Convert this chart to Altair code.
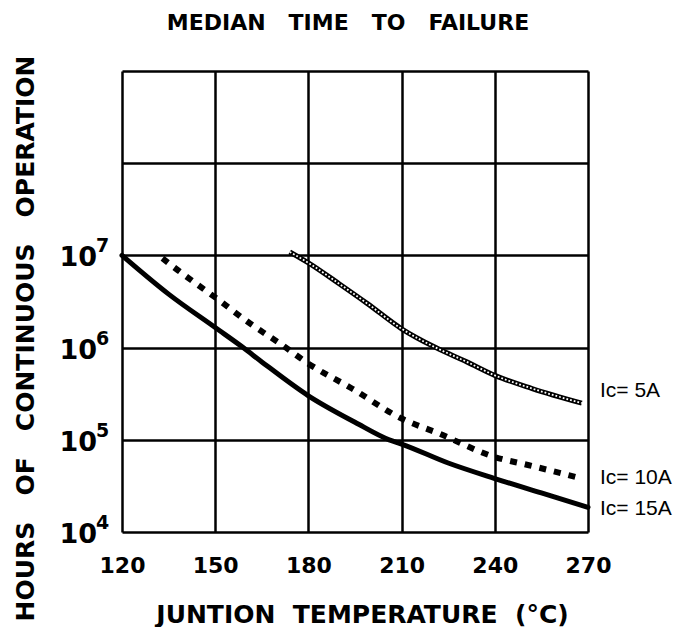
import altair as alt
import pandas as pd

# ---- data ----
title_text = "MEDIAN\u00a0\u00a0 TIME\u00a0\u00a0 TO\u00a0\u00a0 FAILURE"
x_ticks = [120, 150, 180, 210, 240, 270]
y_ticks = [1e4, 1e5, 1e6, 1e7, 1e8, 1e9]
y_label_ticks = [1e4, 1e5, 1e6, 1e7]
y_label_base = ["10", "10", "10", "10"]
y_label_exp = ["4", "5", "6", "7"]

t_15a = [120, 135, 150, 159, 165, 180, 195, 206, 210, 225, 240, 255, 270]
h_15a = [1.0e7, 3.8e6, 1.65e6, 1.0e6, 7.0e5, 3.0e5, 1.55e5, 1.0e5, 9.0e4, 5.6e4, 3.8e4, 2.65e4, 1.85e4]

t_10a = [133, 138, 144, 150, 162, 171, 180, 194, 210, 222, 240, 251, 268]
h_10a = [9.3e6, 6.9e6, 4.9e6, 3.5e6, 1.75e6, 1.1e6, 6.7e5, 3.6e5, 1.7e5, 1.17e5, 6.5e4, 5.3e4, 3.8e4]

t_5a = [174, 180, 190, 199, 210, 221, 231, 240, 252, 268]
h_5a = [1.09e7, 8.3e6, 4.9e6, 3.0e6, 1.6e6, 1.0e6, 7.0e5, 5.0e5, 3.6e5, 2.5e5]

series_names = ["Ic= 5A", "Ic= 10A", "Ic= 15A"]

rows = []
for name, ts, hs in zip(series_names, [t_5a, t_10a, t_15a], [h_5a, h_10a, h_15a]):
    for t, h in zip(ts, hs):
        rows.append({"T": t, "H": h, "series": name})
df = pd.DataFrame(rows)

lab = pd.DataFrame({
    "T": [x_ticks[-1]] * 3,
    "H": [h_5a[-1], h_10a[-1], h_15a[-1]],
    "series": series_names,
})

ylab = pd.DataFrame({
    "T": [x_ticks[0]] * len(y_label_ticks),
    "H": y_label_ticks,
    "base": y_label_base,
    "exp": y_label_exp,
})

FONT = "DejaVu Sans"

x_scale = alt.Scale(domain=[x_ticks[0], x_ticks[-1]], nice=False, zero=False)
y_scale = alt.Scale(type="log", domain=[y_ticks[0], y_ticks[-1]], nice=False)

x_enc = alt.X(
    "T:Q", scale=x_scale,
    axis=alt.Axis(
        values=x_ticks, grid=True, gridColor="black", gridWidth=2.5, gridOpacity=1,
        domain=False, ticks=False, tickSize=0,
        labelFont=FONT, labelFontSize=22, labelFontWeight="bold", labelColor="black",
        labelBaseline="alphabetic", labelPadding=40, labelFlush=False, labelOverlap=False,
        title="JUNTION\u00a0 TEMPERATURE\u00a0 (°C)",
        titleFont=FONT, titleFontSize=25, titleFontWeight="bold", titleColor="black",
        titleX=240, titleY=90, titleAlign="center", titleBaseline="alphabetic",
    ),
)
y_enc = alt.Y(
    "H:Q", scale=y_scale,
    axis=alt.Axis(
        values=y_ticks, labels=False, grid=True, gridColor="black", gridWidth=2.5,
        gridOpacity=1, domain=False, ticks=False, tickSize=0,
        title="HOURS\u00a0\u00a0 OF\u00a0\u00a0 CONTINUOUS\u00a0\u00a0 OPERATION",
        titleFont=FONT, titleFontSize=25, titleFontWeight="bold", titleColor="black",
        titleX=-89, titleY=267, titleAngle=270, titleAlign="center", titleBaseline="alphabetic",
    ),
)

base = alt.Chart(df).encode(x=x_enc, y=y_enc)

line15 = base.transform_filter(alt.datum.series == "Ic= 15A").mark_line(
    color="black", strokeWidth=5, interpolate="monotone", strokeCap="round"
)
line10 = base.transform_filter(alt.datum.series == "Ic= 10A").mark_line(
    color="black", strokeWidth=6, interpolate="monotone", strokeDash=[7, 8], strokeCap="butt"
)
line5 = base.transform_filter(alt.datum.series == "Ic= 5A").mark_line(
    color="black", strokeWidth=5, interpolate="monotone"
)
line5dots = base.transform_filter(alt.datum.series == "Ic= 5A").mark_line(
    color="white", strokeWidth=1.8, interpolate="monotone", strokeDash=[1.8, 2.0]
)

# series labels at the right end
lab_base = alt.Chart(lab).encode(
    x=alt.X("T:Q", scale=x_scale), y=alt.Y("H:Q", scale=y_scale), text="series:N"
)
lab_style = dict(align="left", baseline="alphabetic", dx=12, font="Liberation Sans",
                 fontSize=21, color="black")
lab5 = lab_base.transform_filter(alt.datum.series == "Ic= 5A").mark_text(dy=-6, **lab_style)
lab10 = lab_base.transform_filter(alt.datum.series == "Ic= 10A").mark_text(dy=5, **lab_style)
lab15 = lab_base.transform_filter(alt.datum.series == "Ic= 15A").mark_text(dy=8, **lab_style)

# y tick labels: "10" with a raised exponent
ylab_base = alt.Chart(ylab).encode(x=alt.X("T:Q", scale=x_scale), y=alt.Y("H:Q", scale=y_scale))
ylab10 = ylab_base.mark_text(
    align="right", baseline="alphabetic", dx=-25, dy=11, font=FONT, fontSize=27,
    fontWeight="bold", color="black"
).encode(text="base:N")
ylabexp = ylab_base.mark_text(
    align="left", baseline="alphabetic", dx=-26, dy=-3, font=FONT, fontSize=19,
    fontWeight="bold", color="black"
).encode(text="exp:N")

# chart title as a text mark above the plot
title = alt.Chart(pd.DataFrame({"t": [title_text]})).mark_text(
    align="center", baseline="alphabetic", font=FONT, fontSize=22, fontWeight="bold",
    color="black"
).encode(text="t:N", x=alt.value(226), y=alt.value(-41))

chart = alt.layer(
    line15, line10, line5, line5dots, lab5, lab10, lab15, ylab10, ylabexp, title
).properties(
    width=466,
    height=461,
    autosize=alt.AutoSizeParams(type="none"),
    padding={"left": 114, "top": 63, "right": 85, "bottom": 95},
).configure_view(stroke="black", strokeWidth=3).configure(background="white")

chart.save("out.html", embed_options={"renderer": "svg", "actions": False})
